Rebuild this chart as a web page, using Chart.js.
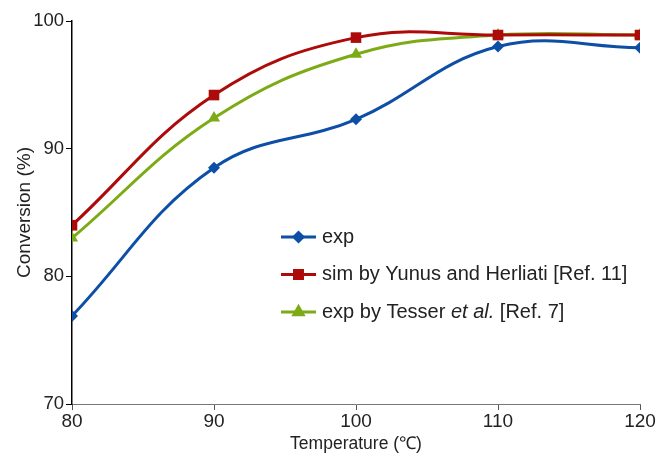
<!DOCTYPE html>
<html>
<head>
<meta charset="utf-8">
<script src="https://cdn.jsdelivr.net/npm/chart.js@4"></script>
<style>
  html, body { margin: 0; padding: 0; background: #fff; }
  #wrap { width: 658px; height: 455px; position: relative; }
</style>
</head>
<body>
<div id="wrap"><canvas id="convChart" width="658" height="455"></canvas></div>
<script>
// temperatures (°C)
const temps = [80, 90, 100, 110, 120];

// conversion (%)
const expValues = [76.9, 88.5, 92.3, 98.0, 97.9];
const simValues = [84.0, 94.2, 98.7, 98.9, 98.9];
const tesserValues = [83.0, 92.4, 97.4, 98.9, 98.9];

const xTicks = [80, 90, 100, 110, 120];
const yTicks = [70, 80, 90, 100];

// legend labels, split so "et al." can be italic
const legendLabels = [
    [{ t: 'exp' }],
    [{ t: 'sim by Yunus and Herliati [Ref. 11]' }],
    [{ t: 'exp by Tesser ' }, { t: 'et al.', i: true }, { t: ' [Ref. 7]' }]
];

const FONT = '"Liberation Sans", Arial, sans-serif';

function toPoints(values) {
    return temps.map((t, i) => ({ x: t, y: values[i] }));
}

// draws the legend inside the plot, like the original
const insideLegend = {
    id: 'insideLegend',
    afterDraw(chart) {
        const ctx = chart.ctx;
        const area = chart.chartArea;
        const x0 = area.left + 209;
        let y = area.top + 216;
        chart.data.datasets.forEach((ds, i) => {
            ctx.save();
            ctx.strokeStyle = ds.borderColor;
            ctx.lineWidth = 3;
            ctx.beginPath();
            ctx.moveTo(x0, y);
            ctx.lineTo(x0 + 35, y);
            ctx.stroke();
            ctx.fillStyle = ds.backgroundColor;
            Chart.helpers.drawPoint(ctx, {
                pointStyle: ds.pointStyle,
                radius: ds.pointRadius * 0.75,
                borderWidth: 1
            }, x0 + 17.5, y);
            ctx.fillStyle = '#222';
            ctx.textBaseline = 'middle';
            let tx = x0 + 41;
            legendLabels[i].forEach(part => {
                ctx.font = (part.i ? 'italic ' : '') + '20px ' + FONT;
                ctx.fillText(part.t, tx, y);
                tx += ctx.measureText(part.t).width;
            });
            ctx.restore();
            y += 37.5;
        });
    }
};

const ctx = document.getElementById('convChart').getContext('2d');
const chart = new Chart(ctx, {
    type: 'scatter',
    data: {
        datasets: [
            {
                label: 'exp',
                data: toPoints(expValues),
                borderColor: '#0e4fa6',
                backgroundColor: '#0e4fa6',
                pointStyle: 'rectRot',
                pointRadius: 6
            },
            {
                label: 'sim by Yunus and Herliati [Ref. 11]',
                data: toPoints(simValues),
                borderColor: '#ad0a0a',
                backgroundColor: '#ad0a0a',
                pointStyle: 'rect',
                pointRadius: 7.5
            },
            {
                label: 'exp by Tesser et al. [Ref. 7]',
                data: toPoints(tesserValues),
                borderColor: '#7cab16',
                backgroundColor: '#7cab16',
                pointStyle: 'triangle',
                pointRadius: 7
            }
        ]
    },
    options: {
        responsive: false,
        animation: false,
        showLine: true,
        layout: { padding: { top: 21, right: 18, left: 0, bottom: 0 } },
        elements: {
            line: { borderWidth: 3, tension: 0.4, cubicInterpolationMode: 'default' },
            point: { borderWidth: 0 }
        },
        plugins: {
            legend: { display: false },
            tooltip: { enabled: false }
        },
        scales: {
            x: {
                type: 'linear',
                min: 80,
                max: 120,
                afterBuildTicks: axis => { axis.ticks = xTicks.map(v => ({ value: v })); },
                afterFit: axis => { axis.height = 51; },
                grid: { drawOnChartArea: false, drawTicks: true, tickLength: 6, tickColor: '#555' },
                border: { color: '#777', width: 1 },
                ticks: { color: '#222', font: { family: FONT, size: 19 }, padding: 0, maxRotation: 0 },
                title: {
                    display: true,
                    text: 'Temperature (\u2103)',
                    color: '#222',
                    font: { family: FONT, size: 17.5 },
                    padding: { top: 0, bottom: 0 }
                }
            },
            y: {
                min: 70,
                max: 100,
                afterBuildTicks: axis => { axis.ticks = yTicks.map(v => ({ value: v })); },
                afterFit: axis => { axis.width = 72; },
                grid: { drawOnChartArea: false, drawTicks: true, tickLength: 6, tickColor: '#000' },
                border: { color: '#000', width: 1.5 },
                ticks: { color: '#222', font: { family: FONT, size: 18.5 }, padding: 2 },
                title: {
                    display: true,
                    text: 'Conversion (%)',
                    color: '#222',
                    font: { family: FONT, size: 19 },
                    padding: { top: 13, bottom: 0 }
                }
            }
        }
    },
    plugins: [insideLegend]
});
</script>
</body>
</html>
